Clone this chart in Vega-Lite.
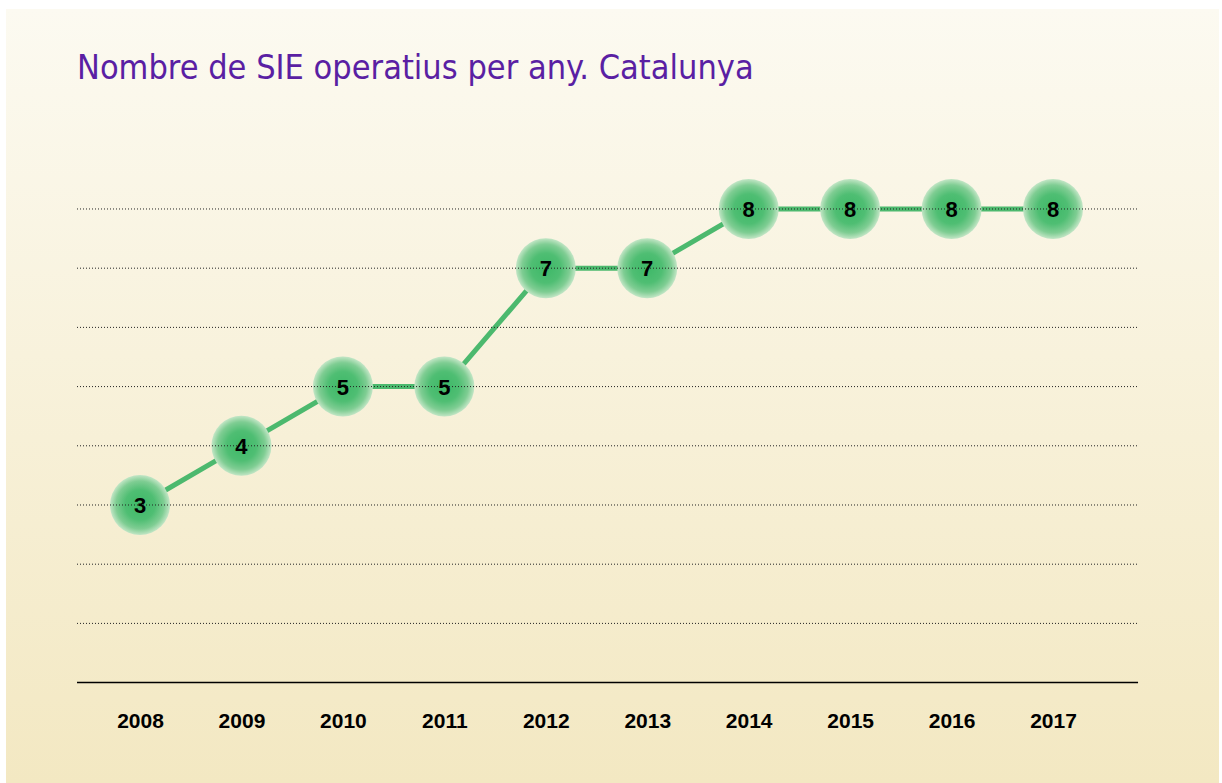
{
  "$schema": "https://vega.github.io/schema/vega-lite/v6.json",
  "width": 1222,
  "height": 783,
  "autosize": {"type": "fit", "contains": "padding"},
  "padding": {"left": 6, "top": 9, "right": 3, "bottom": 0},
  "background": "#ffffff",
  "config": {"view": {"stroke": null}},
  "title": {
    "text": "Nombre de SIE operatius per any. Catalunya",
    "anchor": "start",
    "frame": "group",
    "orient": "top",
    "offset": -104,
    "dx": 71,
    "baseline": "alphabetic",
    "font": "DejaVu Sans Condensed, Roboto, sans-serif",
    "fontSize": 34,
    "fontWeight": "normal",
    "color": "#5a1fa3"
  },
  "datasets": {
    "main": [
      {"year": 2008, "value": 3},
      {"year": 2009, "value": 4},
      {"year": 2010, "value": 5},
      {"year": 2011, "value": 5},
      {"year": 2012, "value": 7},
      {"year": 2013, "value": 7},
      {"year": 2014, "value": 8},
      {"year": 2015, "value": 8},
      {"year": 2016, "value": 8},
      {"year": 2017, "value": 8}
    ],
    "grid": [
      {"g": 1}, {"g": 2}, {"g": 3}, {"g": 4}, {"g": 5}, {"g": 6}, {"g": 7}, {"g": 8}
    ]
  },
  "layer": [
    {
      "data": {"values": [{"bg": 1}]},
      "mark": {
        "type": "rect",
        "color": {
          "gradient": "linear",
          "x1": 0, "y1": 0, "x2": 0, "y2": 1,
          "stops": [
            {"offset": 0, "color": "#fcfaf1"},
            {"offset": 1, "color": "#f3e8c2"}
          ]
        }
      },
      "encoding": {}
    },
    {
      "data": {"name": "main"},
      "mark": {"type": "line", "color": "#4cb96e", "strokeWidth": 5},
      "encoding": {
        "x": {
          "field": "year", "type": "quantitative",
          "scale": {"domain": [2006.679, 2018.636], "nice": false, "zero": false},
          "axis": {
            "values": [2008, 2009, 2010, 2011, 2012, 2013, 2014, 2015, 2016, 2017],
            "format": "d",
            "orient": "bottom",
            "offset": -62,
            "zindex": 1,
            "domain": false,
            "ticks": false,
            "tickSize": 0,
            "grid": false,
            "labelPadding": 0,
            "labelBaseline": "middle",
            "labelDx": 4,
            "labelFont": "Liberation Sans",
            "labelFontWeight": "bold",
            "labelFontSize": 21,
            "labelColor": "#000000",
            "title": null
          }
        },
        "y": {
          "field": "value", "type": "quantitative",
          "scale": {"domain": [-1.696, 11.378], "nice": false, "zero": false},
          "axis": null
        }
      }
    },
    {
      "data": {"name": "main"},
      "mark": {
        "type": "point",
        "shape": "circle",
        "filled": true,
        "size": 3600,
        "opacity": 1,
        "fill": {
          "gradient": "radial",
          "x1": 0.5, "y1": 0.5, "r1": 0,
          "x2": 0.5, "y2": 0.5, "r2": 0.5,
          "stops": [
            {"offset": 0, "color": "#3db867"},
            {"offset": 0.5, "color": "#4fbe73"},
            {"offset": 0.8, "color": "#7fcd93"},
            {"offset": 1, "color": "#c3e6c6"}
          ]
        }
      },
      "encoding": {
        "x": {"field": "year", "type": "quantitative"},
        "y": {"field": "value", "type": "quantitative"}
      }
    },
    {
      "data": {"name": "grid"},
      "mark": {"type": "rule", "color": "#222222", "strokeWidth": 1, "strokeDash": [1, 2]},
      "encoding": {
        "y": {"field": "g", "type": "quantitative"},
        "x": {"datum": 2007.379},
        "x2": {"datum": 2017.838}
      }
    },
    {
      "data": {"values": [{"base": 0}]},
      "mark": {"type": "rule", "color": "#000000", "strokeWidth": 1.5},
      "encoding": {
        "y": {"field": "base", "type": "quantitative"},
        "x": {"datum": 2007.379},
        "x2": {"datum": 2017.838}
      }
    },
    {
      "data": {"name": "main"},
      "mark": {
        "type": "text",
        "font": "Liberation Sans",
        "fontWeight": "bold",
        "fontSize": 22,
        "color": "#000000",
        "baseline": "middle",
        "align": "center",
        "dy": 1
      },
      "encoding": {
        "x": {"field": "year", "type": "quantitative"},
        "y": {"field": "value", "type": "quantitative"},
        "text": {"field": "value", "type": "quantitative"}
      }
    }
  ]
}
